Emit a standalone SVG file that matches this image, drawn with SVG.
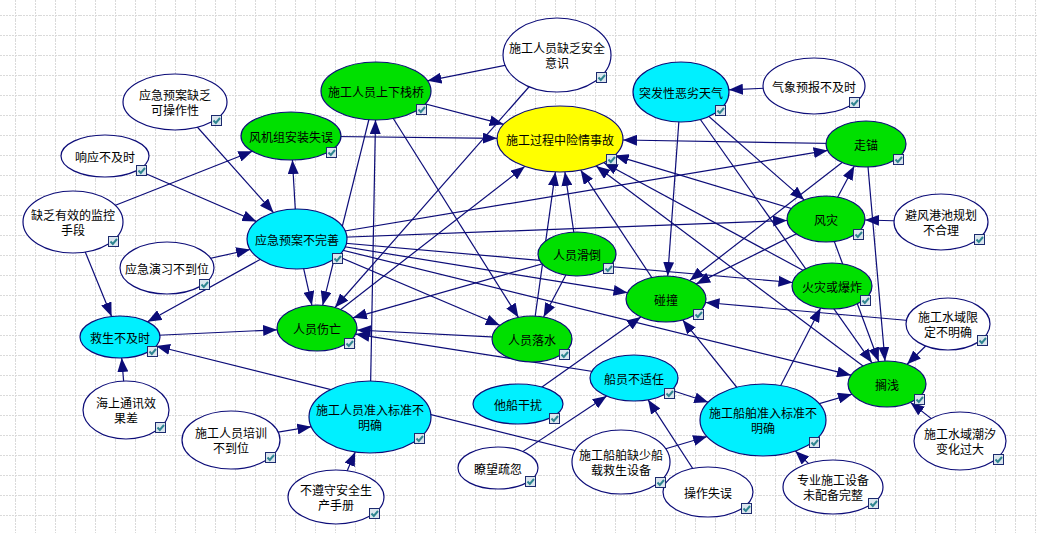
<svg xmlns="http://www.w3.org/2000/svg" width="1038" height="533" viewBox="0 0 1038 533">
<defs>
<pattern id="grid" width="20" height="20" patternUnits="userSpaceOnUse" x="0" y="0">
<path d="M15.5,0 V20 M0,15.5 H20" stroke="#dadada" stroke-width="1" stroke-dasharray="2,1" fill="none"/>
</pattern>
<marker id="arr" markerUnits="userSpaceOnUse" markerWidth="14" markerHeight="11" refX="14" refY="5.5" orient="auto">
<path d="M0,0 L14,5.5 L0,11 z" fill="#0c0c78"/>
</marker>
<g id="cb">
<rect x="0.5" y="0.5" width="10" height="10" fill="#dbe6ee" stroke="#1c2a6e" stroke-width="1"/>
<polyline points="2.5,5.5 4.8,8 9,3" fill="none" stroke="#2f8590" stroke-width="2"/>
</g>
<style>
.e line{stroke:#0c0c78;stroke-width:1.2;fill:none;marker-end:url(#arr)}
.n ellipse{stroke:#0c0c78;stroke-width:1.2}
.w{fill:#ffffff}.g{fill:#00e000}.c{fill:#00f0ff}.y{fill:#ffff00}
.n text{font-family:"Noto Sans CJK SC","Noto Sans",sans-serif;font-size:12px;fill:#000;text-anchor:middle;dominant-baseline:central}
</style>
</defs>
<rect width="1038" height="533" fill="#ffffff"/>
<rect width="1038" height="533" fill="url(#grid)"/>
<g id="connectors" class="e">
<line x1="175" y1="102" x2="273.4" y2="212.5"/>
<line x1="105" y1="156" x2="256.4" y2="221.5"/>
<line x1="73" y1="222" x2="252.4" y2="151.2"/>
<line x1="73" y1="222" x2="111.6" y2="316.5"/>
<line x1="167" y1="268" x2="250.1" y2="249.5"/>
<line x1="297" y1="239" x2="292.4" y2="160"/>
<line x1="297" y1="239" x2="147.5" y2="321.8"/>
<line x1="297" y1="239" x2="311.9" y2="305.2"/>
<line x1="297" y1="239" x2="499.8" y2="325.3"/>
<line x1="297" y1="239" x2="627.5" y2="292.7"/>
<line x1="297" y1="239" x2="792.5" y2="282.5"/>
<line x1="297" y1="239" x2="851" y2="375.2"/>
<line x1="297" y1="239" x2="787.1" y2="220.5"/>
<line x1="297" y1="239" x2="827.6" y2="150.4"/>
<line x1="120" y1="337" x2="277.1" y2="329.8"/>
<line x1="126" y1="410" x2="121.7" y2="358"/>
<line x1="621" y1="462" x2="156.1" y2="346"/>
<line x1="231" y1="440" x2="311.3" y2="426.7"/>
<line x1="336" y1="497" x2="355.2" y2="451.9"/>
<line x1="370" y1="417" x2="375.5" y2="120"/>
<line x1="557" y1="55" x2="427.5" y2="80.8"/>
<line x1="557" y1="55" x2="335" y2="307.5"/>
<line x1="376" y1="91" x2="503.6" y2="124.3"/>
<line x1="376" y1="91" x2="322.7" y2="305.2"/>
<line x1="376" y1="91" x2="518.4" y2="317.4"/>
<line x1="291" y1="136" x2="497" y2="138.3"/>
<line x1="317" y1="328" x2="524.8" y2="166.4"/>
<line x1="577" y1="254" x2="564.9" y2="171.9"/>
<line x1="532" y1="339" x2="555.4" y2="171.9"/>
<line x1="666" y1="299" x2="580.7" y2="170.2"/>
<line x1="832" y1="286" x2="603.9" y2="162.7"/>
<line x1="826" y1="219" x2="614.6" y2="155.4"/>
<line x1="887" y1="384" x2="596.1" y2="166"/>
<line x1="866" y1="144" x2="623" y2="140"/>
<line x1="577" y1="254" x2="543.6" y2="317"/>
<line x1="577" y1="254" x2="352.9" y2="317.8"/>
<line x1="532" y1="339" x2="356.8" y2="330"/>
<line x1="634" y1="378" x2="355.6" y2="334.1"/>
<line x1="814" y1="86" x2="728.9" y2="89.8"/>
<line x1="681" y1="92" x2="667.7" y2="276"/>
<line x1="681" y1="92" x2="804.2" y2="199.9"/>
<line x1="681" y1="92" x2="872" y2="362.8"/>
<line x1="826" y1="219" x2="854.3" y2="166"/>
<line x1="826" y1="219" x2="696.2" y2="283.9"/>
<line x1="866" y1="144" x2="689.8" y2="280.5"/>
<line x1="866" y1="144" x2="885" y2="361"/>
<line x1="826" y1="219" x2="878.7" y2="361.5"/>
<line x1="941" y1="222" x2="865" y2="220"/>
<line x1="948" y1="324" x2="705.5" y2="302.5"/>
<line x1="948" y1="324" x2="907.1" y2="364.3"/>
<line x1="960" y1="441" x2="910.5" y2="402.4"/>
<line x1="763" y1="420" x2="852" y2="394.2"/>
<line x1="763" y1="420" x2="820.6" y2="308.1"/>
<line x1="763" y1="420" x2="682.7" y2="319.9"/>
<line x1="833" y1="487" x2="795.3" y2="450.9"/>
<line x1="621" y1="462" x2="707.1" y2="436.5"/>
<line x1="634" y1="378" x2="708.3" y2="402.2"/>
<line x1="498" y1="468" x2="606.7" y2="396"/>
<line x1="708" y1="492" x2="648.1" y2="399.8"/>
<line x1="518" y1="404" x2="640.8" y2="316.9"/>
</g>
<g id="nodes" class="n">
<g id="n1"><ellipse class="y" cx="560" cy="139" rx="63" ry="33"/><text x="560" y="139">施工过程中险情事故</text><use href="#cb" x="606" y="154"/></g>
<g id="n2"><ellipse class="g" cx="376" cy="91" rx="55" ry="29"/><text x="376" y="91">施工人员上下栈桥</text><use href="#cb" x="416" y="104"/></g>
<g id="n3"><ellipse class="w" cx="557" cy="55" rx="54" ry="37"/><text x="557" y="47.5">施工人员缺乏安全</text><text x="557" y="62.5">意识</text><use href="#cb" x="596" y="72"/></g>
<g id="n4"><ellipse class="c" cx="681" cy="92" rx="48" ry="30"/><text x="681" y="92">突发性恶劣天气</text><use href="#cb" x="715" y="105"/></g>
<g id="n5"><ellipse class="w" cx="814" cy="86" rx="51" ry="28"/><text x="814" y="86">气象预报不及时</text><use href="#cb" x="849" y="97"/></g>
<g id="n6"><ellipse class="g" cx="866" cy="144" rx="40" ry="23"/><text x="866" y="144">走锚</text><use href="#cb" x="893" y="154"/></g>
<g id="n7"><ellipse class="g" cx="826" cy="219" rx="39" ry="23"/><text x="826" y="219">风灾</text><use href="#cb" x="853" y="229"/></g>
<g id="n8"><ellipse class="w" cx="941" cy="222" rx="47" ry="28"/><text x="941" y="214.5">避风港池规划</text><text x="941" y="229.5">不合理</text><use href="#cb" x="974" y="234"/></g>
<g id="n9"><ellipse class="g" cx="291" cy="136" rx="50" ry="24"/><text x="291" y="136">风机组安装失误</text><use href="#cb" x="326" y="147"/></g>
<g id="n10"><ellipse class="w" cx="175" cy="102" rx="52" ry="28"/><text x="175" y="94.5">应急预案缺乏</text><text x="175" y="109.5">可操作性</text><use href="#cb" x="211" y="115"/></g>
<g id="n11"><ellipse class="w" cx="105" cy="156" rx="44" ry="21"/><text x="105" y="156">响应不及时</text><use href="#cb" x="136" y="165"/></g>
<g id="n12"><ellipse class="w" cx="73" cy="222" rx="50" ry="31"/><text x="73" y="214.5">缺乏有效的监控</text><text x="73" y="229.5">手段</text><use href="#cb" x="108" y="236"/></g>
<g id="n13"><ellipse class="c" cx="297" cy="239" rx="50" ry="30"/><text x="297" y="239">应急预案不完善</text><use href="#cb" x="332" y="253"/></g>
<g id="n14"><ellipse class="w" cx="167" cy="268" rx="47" ry="26"/><text x="167" y="268">应急演习不到位</text><use href="#cb" x="199" y="279"/></g>
<g id="n15"><ellipse class="c" cx="120" cy="337" rx="40" ry="21"/><text x="120" y="337">救生不及时</text><use href="#cb" x="147" y="346"/></g>
<g id="n16"><ellipse class="g" cx="317" cy="328" rx="40" ry="23"/><text x="317" y="328">人员伤亡</text><use href="#cb" x="344" y="338"/></g>
<g id="n17"><ellipse class="w" cx="126" cy="410" rx="43" ry="29"/><text x="126" y="402.5">海上通讯效</text><text x="126" y="417.5">果差</text><use href="#cb" x="155" y="422"/></g>
<g id="n18"><ellipse class="c" cx="370" cy="417" rx="61" ry="36"/><text x="370" y="409.5">施工人员准入标准不</text><text x="370" y="424.5">明确</text><use href="#cb" x="414" y="433"/></g>
<g id="n19"><ellipse class="w" cx="231" cy="440" rx="49" ry="29"/><text x="231" y="432.5">施工人员培训</text><text x="231" y="447.5">不到位</text><use href="#cb" x="265" y="452"/></g>
<g id="n20"><ellipse class="w" cx="336" cy="497" rx="48" ry="27"/><text x="336" y="489.5">不遵守安全生</text><text x="336" y="504.5">产手册</text><use href="#cb" x="369" y="508"/></g>
<g id="n21"><ellipse class="g" cx="577" cy="254" rx="39" ry="22"/><text x="577" y="254">人员滑倒</text><use href="#cb" x="603" y="263"/></g>
<g id="n22"><ellipse class="g" cx="532" cy="339" rx="40" ry="23"/><text x="532" y="339">人员落水</text><use href="#cb" x="559" y="349"/></g>
<g id="n23"><ellipse class="g" cx="666" cy="299" rx="40" ry="23"/><text x="666" y="299">碰撞</text><use href="#cb" x="693" y="309"/></g>
<g id="n24"><ellipse class="g" cx="832" cy="286" rx="40" ry="23"/><text x="832" y="286">火灾或爆炸</text><use href="#cb" x="860" y="295"/></g>
<g id="n25"><ellipse class="w" cx="948" cy="324" rx="42" ry="26"/><text x="948" y="316.5">施工水域限</text><text x="948" y="331.5">定不明确</text><use href="#cb" x="977" y="335"/></g>
<g id="n26"><ellipse class="g" cx="887" cy="384" rx="39" ry="23"/><text x="887" y="384">搁浅</text><use href="#cb" x="914" y="394"/></g>
<g id="n27"><ellipse class="w" cx="960" cy="441" rx="46" ry="29"/><text x="960" y="433.5">施工水域潮汐</text><text x="960" y="448.5">变化过大</text><use href="#cb" x="993" y="454"/></g>
<g id="n28"><ellipse class="c" cx="763" cy="420" rx="63" ry="36"/><text x="763" y="412.5">施工船舶准入标准不</text><text x="763" y="427.5">明确</text><use href="#cb" x="809" y="437"/></g>
<g id="n29"><ellipse class="w" cx="833" cy="487" rx="50" ry="27"/><text x="833" y="479.5">专业施工设备</text><text x="833" y="494.5">未配备完整</text><use href="#cb" x="868" y="498"/></g>
<g id="n30"><ellipse class="w" cx="708" cy="492" rx="45" ry="25"/><text x="708" y="492">操作失误</text><use href="#cb" x="741" y="503"/></g>
<g id="n31"><ellipse class="c" cx="634" cy="378" rx="44" ry="23"/><text x="634" y="378">船员不适任</text><use href="#cb" x="664" y="388"/></g>
<g id="n32"><ellipse class="c" cx="518" cy="404" rx="45" ry="20"/><text x="518" y="404">他船干扰</text><use href="#cb" x="549" y="413"/></g>
<g id="n33"><ellipse class="w" cx="498" cy="468" rx="40" ry="21"/><text x="498" y="468">瞭望疏忽</text><use href="#cb" x="525" y="476"/></g>
<g id="n34"><ellipse class="w" cx="621" cy="462" rx="49" ry="32"/><text x="621" y="454.5">施工船舶缺少船</text><text x="621" y="469.5">载救生设备</text><use href="#cb" x="655" y="477"/></g>
</g>
</svg>
